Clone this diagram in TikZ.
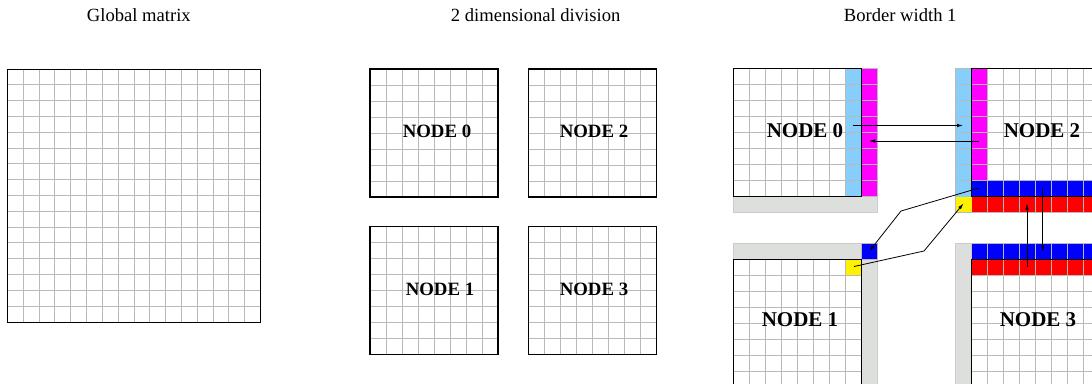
\documentclass[tikz,border=0pt]{standalone}
\usepackage{fontspec}
\setmainfont{Liberation Serif}
\usetikzlibrary{arrows.meta}
\definecolor{lblue}{RGB}{135,206,250}
\definecolor{bgray}{RGB}{220,223,220}
\definecolor{mag}{RGB}{255,0,255}
\tikzset{
  gl/.style={draw=gray!55, line width=0.9pt},
  bx/.style={draw=black, line width=1.9pt},
  strip/.style={fill=bgray, draw=gray!40, line width=0.8pt},
  title/.style={font=\fontsize{18.6}{20}\selectfont, inner sep=0pt},
  lab/.style={font=\fontsize{18.8}{20}\selectfont\bfseries, inner sep=0pt, anchor=base},
  labr/.style={font=\fontsize{21}{22}\selectfont\bfseries, inner sep=0pt, anchor=base},
  con/.style={draw=black, line width=0.8pt, -{Latex[length=6pt,width=3.5pt]}},
}
\begin{document}
\begin{tikzpicture}[x=1pt,y=-1pt]
\useasboundingbox (0,0) rectangle (1092,383);
\clip (0,0) rectangle (1092,383);
\fill[white] (0,0) rectangle (1092,383);

% titles
\node[title, anchor=base west] (t1) at (86.7,21.5) {Global matrix};
\node[title, anchor=base west] (t2) at (450.7,21.5) {2 dimensional division};
\node[title, anchor=base east] (t3) at (956.7,21.5) {Border width 1};

% global matrix
\foreach \i in {1,...,15} {
  \draw[gl] ({7.5+\i*15.8125},69) -- ++(0,253);
  \draw[gl] (7.5,{69+\i*15.8125}) -- ++(253,0);
}
\draw[black, line width=1pt] (7.5,69) rectangle ++(253,253);

% middle panel
\foreach \bx/\by in {370/69, 528.5/69, 370/226.5, 528.5/226.5} {
  \foreach \i in {1,...,7} {
    \draw[gl] ({\bx+\i*16},\by) -- ++(0,128);
    \draw[gl] (\bx,{\by+\i*16}) -- ++(128,0);
  }
  \draw[bx] (\bx,\by) rectangle ++(128,128);
}
\node[lab] (m0) at (437,137) {NODE 0};
\node[lab] (m2) at (594,137) {NODE 2};
\node[lab] (m1) at (440,295) {NODE 1};
\node[lab] (m3) at (594,295) {NODE 3};

% ---------- right panel ----------
% node 0
\fill[lblue] (845.5,68.5) rectangle (861.5,196.5);
\fill[mag] (861.5,68.5) rectangle (877.5,196.5);
\draw[strip] (733.5,196.5) rectangle (877.5,212.5);
\foreach \i in {1,...,7} {
  \draw[gl] ({733.5+\i*16},68.5) -- ++(0,128);
  \draw[gl] (733.5,{68.5+\i*16}) -- (877.5,{68.5+\i*16});
}
\draw[gl] (861.5,68.5) rectangle (877.5,196.5);
\draw[bx] (733.5,68.5) rectangle (861.5,196.5);
\node[labr] (r0) at (805,137.3) {NODE 0};

% node 2
\fill[lblue] (955.5,68.5) rectangle (971.5,196.5);
\fill[yellow] (955.5,196.5) rectangle (971.5,212.5);
\fill[mag] (971.5,68.5) rectangle (987.5,180.5);
\fill[blue] (971.5,180.5) rectangle (1099.5,196.5);
\fill[red] (971.5,196.5) rectangle (1099.5,212.5);
\foreach \i in {1,...,7} {
  \draw[gl] ({971.5+\i*16},68.5) -- ({971.5+\i*16},212.5);
  \draw[gl] (955.5,{68.5+\i*16}) -- (1099.5,{68.5+\i*16});
}
\draw[gl] (955.5,68.5) rectangle (1099.5,212.5);
\draw[bx] (971.5,68.5) rectangle (1099.5,196.5);
\node[labr] (r2) at (1042,137.3) {NODE 2};

% node 1
\draw[strip] (733.5,243.5) rectangle (861.5,259.5);
\draw[strip] (861.5,259.5) rectangle (877.5,400);
\fill[blue] (861.5,243.5) rectangle (877.5,259.5);
\draw[gl] (861.5,243.5) rectangle (877.5,259.5);
\fill[yellow] (845.5,259.5) rectangle (861.5,275.5);
\foreach \i in {1,...,7} {
  \draw[gl] ({733.5+\i*16},259.5) -- ++(0,128);
  \draw[gl] (733.5,{259.5+\i*16}) -- ++(128,0);
}
\draw[bx] (733.5,259.5) rectangle (861.5,387.5);
\node[labr] (r1) at (800,326.7) {NODE 1};

% node 3
\draw[strip] (955.5,243.5) rectangle (971.5,400);
\fill[blue] (971.5,243.5) rectangle (1099.5,259.5);
\fill[red] (971.5,259.5) rectangle (1099.5,275.5);
\foreach \i in {1,...,7} {
  \draw[gl] ({971.5+\i*16},243.5) -- ({971.5+\i*16},387.5);
  \draw[gl] (971.5,{259.5+\i*16}) -- ++(128,0);
}
\draw[gl] (971.5,243.5) -- (1099.5,243.5);
\draw[bx] (971.5,259.5) rectangle (1099.5,387.5);
\node[labr] (r3) at (1038,326.7) {NODE 3};

% connector end points
\coordinate (a0s) at (853,125.5);
\coordinate (a0e) at (963,125.5);
\coordinate (b2s) at (979,141);
\coordinate (b2e) at (869,141);
\coordinate (c2s) at (979,188);
\coordinate (c2k) at (901,211);
\coordinate (c1e) at (869.5,251);
\coordinate (d1s) at (854,266.5);
\coordinate (d1k) at (924,251);
\coordinate (d2e) at (963.5,203.5);
\coordinate (e3s) at (1027,267);
\coordinate (e2e) at (1027,203.5);
\coordinate (f2s) at (1042.7,188);
\coordinate (f3e) at (1042.7,251.5);

\draw[con] (a0s) -- (a0e);
\draw[con] (b2s) -- (b2e);
\draw[con] (c2s) -- (c2k) -- (c1e);
\draw[con] (d1s) -- (d1k) -- (d2e);
\draw[con] (e3s) -- (e2e);
\draw[con] (f2s) -- (f3e);
\end{tikzpicture}
\end{document}
